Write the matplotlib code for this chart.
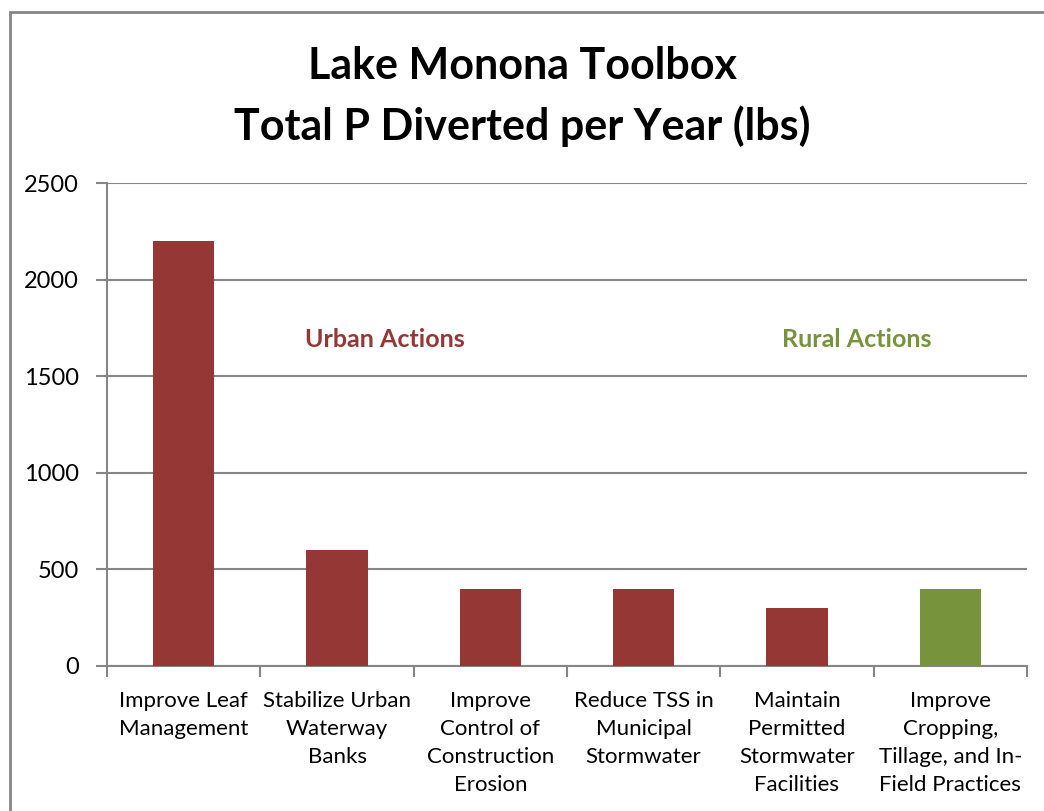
import matplotlib.pyplot as plt
from matplotlib.patches import Rectangle
import numpy as np

### DATA

categories = ['Improve Leaf\nManagement', 'Stabilize Urban\nWaterway\nBanks',
              'Improve\nControl of\nConstruction\nErosion', 'Reduce TSS in\nMunicipal\nStormwater',
              'Maintain\nPermitted\nStormwater\nFacilities', 'Improve\nCropping,\nTillage, and In-\nField Practices']
p_diverted = [2200, 600, 400, 400, 300, 400]
bar_group = ['urban', 'urban', 'urban', 'urban', 'urban', 'rural']
y_ticks = [0, 500, 1000, 1500, 2000, 2500]

red = '#953735'
green = '#77933C'
gray = '#868686'
colors = [red if g == 'urban' else green for g in bar_group]

plt.rcParams['font.family'] = ['Lato', 'DejaVu Sans']

fig = plt.figure(figsize=(10.44, 8.11), dpi=100)
ax = fig.add_axes([107/1044, 1-666/811, 920/1044, 483/811])

x = np.arange(len(categories))
ax.bar(x, p_diverted, 0.4, color=colors, zorder=3)

ax.set_xlim(-0.5, len(categories)-0.5)
ax.set_ylim(0, 2500)
ax.set_yticks(y_ticks)
ax.set_yticklabels([str(v) for v in y_ticks], fontsize=17)
ax.yaxis.grid(True, color=gray, linewidth=1.5, zorder=0)
ax.tick_params(axis='y', length=8, width=1.5, color=gray, pad=12)

# category labels between boundary ticks
ax.set_xticks(np.arange(len(categories)+1)-0.5)
ax.set_xticklabels([])
ax.set_xticks(x, minor=True)
ax.set_xticklabels(categories, minor=True, fontsize=16, linespacing=1.5, va='top')
ax.tick_params(axis='x', which='major', length=8, width=1.5, color=gray)
ax.tick_params(axis='x', which='minor', length=0, pad=18)

for s in ['top', 'right']:
    ax.spines[s].set_visible(False)
for s in ['left', 'bottom']:
    ax.spines[s].set_color(gray)
    ax.spines[s].set_linewidth(1.5)

ax.text(1.31, 1690, 'Urban Actions', color=red, fontsize=18, fontweight='bold', ha='center', va='center')
ax.text(4.39, 1690, 'Rural Actions', color=green, fontsize=18, fontweight='bold', ha='center', va='center')

fig.text(0.5, 1-66/811, 'Lake Monona Toolbox', fontsize=31, fontweight='bold', ha='center', va='center')
fig.text(0.5, 1-126/811, 'Total P Diverted per Year (lbs)', fontsize=31, fontweight='bold', ha='center', va='center')

# chart area border
fig.patches.append(Rectangle((10/1044, -0.1), 1.2, 1-12/811+0.1, transform=fig.transFigure,
                             fill=False, edgecolor=gray, linewidth=2))

fig.savefig('out.png', dpi=100)
